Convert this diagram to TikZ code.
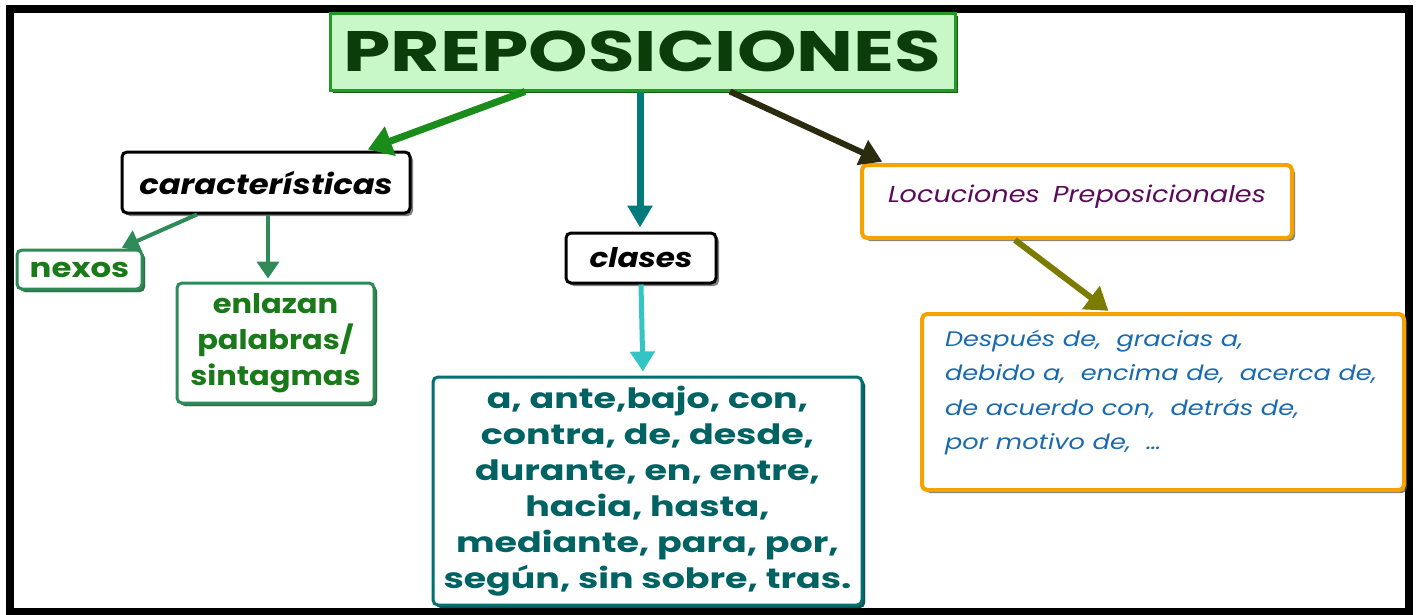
\documentclass[tikz,border=0pt]{standalone}
\usepackage{fontspec}
\setmainfont{Poppins}
\usetikzlibrary{arrows.meta,shadows,calc}
\definecolor{titlefill}{HTML}{C8F8C8}
\definecolor{titleborder}{HTML}{249A24}
\definecolor{titletext}{HTML}{0B3D0B}
\definecolor{greenbox}{HTML}{2E8B57}
\definecolor{greentext}{HTML}{1A7A1A}
\definecolor{tealbox}{HTML}{007070}
\definecolor{tealtext}{HTML}{006262}
\definecolor{orangebox}{HTML}{F5A300}
\definecolor{purpletext}{HTML}{5C0A5C}
\definecolor{bluetext}{HTML}{1A6AB0}
\definecolor{arrgreen}{HTML}{1A8C1A}
\definecolor{arrteal}{HTML}{007B7B}
\definecolor{arrdark}{HTML}{2B2B10}
\definecolor{arrsea}{HTML}{2E8B57}
\definecolor{arrcyan}{HTML}{33C4C4}
\definecolor{arrolive}{HTML}{7B7B00}
\newcommand\fsz[3]{\fontsize{#1}{#2}\selectfont\addfontfeatures{FakeStretch=#3}}
\begin{document}
\begin{tikzpicture}[x=1pt,y=-1pt,
  box/.style={rounded corners=5pt, line width=3pt, fill=white, inner sep=0pt,
    drop shadow={shadow xshift=3pt, shadow yshift=-3pt, opacity=0.7, fill=black!70}},
  blackbox/.style={box, draw=black, text=black},
  greenbx/.style={box, draw=greenbox, text=greentext,
    drop shadow={shadow xshift=3pt, shadow yshift=-3pt, opacity=0.9, fill=greenbox!80!black}},
  tealbx/.style={box, draw=tealbox, text=tealtext,
    drop shadow={shadow xshift=3pt, shadow yshift=-3pt, opacity=0.9, fill=tealbox!70!black}},
  orangebx/.style={box, draw=orangebox, line width=4pt},
  bigarrow/.style={line width=7pt, -{Triangle[length=24pt,width=30pt]}},
  midarrow/.style={line width=5pt, -{Triangle[length=20pt,width=24pt]}},
  smallarrow/.style={line width=4pt, -{Triangle[length=17pt,width=22pt]}},
]
\useasboundingbox (0,0) rectangle (1419,614);
\fill[white] (0,0) rectangle (1419,614);
\draw[line width=8pt] (9.5,8.5) rectangle (1409,612);

% title
\node[fill=titlefill, draw=titleborder, line width=3pt, inner sep=0pt,
  minimum width=625pt, minimum height=77pt,
  drop shadow={shadow xshift=3pt, shadow yshift=-3pt, opacity=1, fill=titleborder!60!black},
  text=titletext, font=\bfseries\fsz{57}{57}{1.33}] (title) at (642.5,51.5)
  {PREPOSICIONES};

% nodes
\node[blackbox, minimum width=288pt, minimum height=61pt, font=\bfseries\itshape\fsz{28}{30}{1.15}] (car) at (266,182.5)
  {características};
\node[greenbx, minimum width=125pt, minimum height=39pt, font=\bfseries\fsz{27}{28}{1.2}] (nexos) at (79.5,269.5)
  {nexos};
\node[greenbx, minimum width=197pt, minimum height=120pt, align=center, font=\bfseries\fsz{27}{36}{1.13}] (enl) at (275.5,343)
  {enlazan\\palabras/\\sintagmas};
\node[blackbox, minimum width=150pt, minimum height=50pt, font=\bfseries\itshape\fsz{27}{28}{1.15}] (clases) at (641,258)
  {clases};
\node[tealbx, minimum width=429pt, minimum height=228pt, align=center, font=\bfseries\fsz{28}{36}{1.3}] (list) at (647.5,491)
  {a, ante,bajo, con,\\contra, de, desde,\\durante, en, entre,\\hacia, hasta,\\mediante, para, por,\\según, sin sobre, tras.};
\node[orangebx, inner xsep=26pt, inner ysep=3pt, text=purpletext] (loc) at (1077,201.5)
  {\begin{minipage}[c][67pt][t]{378pt}\vspace*{17pt}\itshape\fsz{23}{26}{1.18}Locuciones\ \ Preposicionales\end{minipage}};
\node[orangebx, inner xsep=23pt, inner ysep=3pt, text=bluetext] (desp) at (1163,402)
  {\begin{minipage}[c][170pt][t]{436pt}\vspace*{13pt}\itshape\fsz{21}{34.5}{1.22}%
   Después\ de,\ \ gracias\ a,\\
   debido\ a,\ \ encima\ de,\ \ acerca\ de,\\
   de\ acuerdo\ con,\ \ detrás\ de,\\
   por\ motivo\ de,\ \ \dots\end{minipage}};

% connectors
\draw[bigarrow, arrgreen, shorten >=3pt] ([xshift=-117.5pt]title.south) -- ([xshift=99pt]car.north);
\draw[bigarrow, arrteal, -{Triangle[length=22pt,width=24pt]}, shorten >=4pt] ([xshift=-2.5pt]title.south) -- ([xshift=-1pt]clases.north);
\draw[midarrow, arrdark, line width=6pt, -{Triangle[length=22pt,width=26pt]}, shorten >=3pt] ([xshift=87.5pt]title.south) -- ([xshift=-192pt]loc.north);
\draw[smallarrow, arrsea, shorten >=2pt] ([xshift=-69pt]car.south) -- ([xshift=40.5pt]nexos.north);
\draw[smallarrow, arrsea, shorten >=3pt] ([xshift=2pt]car.south) -- ([xshift=-7.5pt]enl.north);
\draw[midarrow, arrcyan, shorten >=4pt] (clases.south) -- ([xshift=-4.5pt]list.north);
\draw[midarrow, arrolive, line width=6pt, -{Triangle[length=22pt,width=28pt]}, shorten >=2pt] ([xshift=-62pt]loc.south) -- ([xshift=-53pt]desp.north);
\end{tikzpicture}
\end{document}
